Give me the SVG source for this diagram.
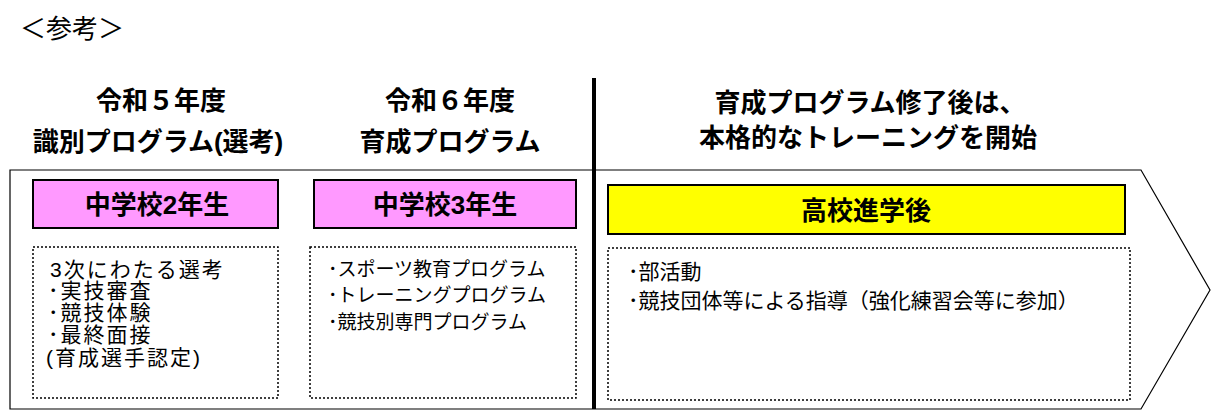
<svg xmlns="http://www.w3.org/2000/svg" width="1213" height="418" viewBox="0 0 1213 418">
<style>
text{font-family:"Liberation Sans","Noto Sans CJK JP",sans-serif;fill:#000}
.h{font-size:26px;font-weight:bold;text-anchor:middle}
.b{font-size:26px;font-weight:bold;text-anchor:middle}
.t{font-size:21px}
.l{letter-spacing:2px}
.m{font-size:19px}
.dot{fill:#fff;stroke:#000;stroke-width:1.5;stroke-dasharray:2 2}
.pk{fill:#ff99ff;stroke:#000;stroke-width:2}
</style>
<rect width="1213" height="418" fill="#fff"/>
<text x="20" y="38" style="font-size:26px">＜参考＞</text>
<g id="headers">
<text class="h" x="161" y="110">令和５年度</text>
<text class="h" x="158" y="151">識別プログラム(選考)</text>
<text class="h" x="450" y="110">令和６年度</text>
<text class="h" x="450" y="151">育成プログラム</text>
<text class="h" x="870" y="112">育成プログラム修了後は、</text>
<text class="h" x="868" y="147">本格的なトレーニングを開始</text>
</g>
<g id="arrow"><polygon points="10,170 1141,170 1210,290 1141,409 10,409" fill="#fff" stroke="#000" stroke-width="1.2"/></g>
<g id="divider"><line x1="594" y1="78" x2="594" y2="409" stroke="#000" stroke-width="4"/></g>
<g id="n1">
<rect class="pk" x="33" y="180" width="245" height="48"/>
<text class="b" x="157" y="214">中学校2年生</text>
<rect class="dot" x="33" y="247" width="245" height="151"/>
<text class="t l" x="50" y="277">3次にわたる選考</text>
<text class="t l" x="48" y="298">･実技審査</text>
<text class="t l" x="48" y="320">･競技体験</text>
<text class="t l" x="48" y="342">･最終面接</text>
<text class="t l" x="46" y="365">(育成選手認定)</text>
</g>
<g id="n2">
<rect class="pk" x="314" y="180" width="262" height="48"/>
<text class="b" x="445" y="214">中学校3年生</text>
<rect class="dot" x="310" y="247" width="266" height="151"/>
<text class="m" x="328" y="276">･スポーツ教育プログラム</text>
<text class="m" x="328" y="302">･トレーニングプログラム</text>
<text class="m" x="328" y="329">･競技別専門プログラム</text>
</g>
<g id="n3">
<rect x="608" y="185" width="517" height="49" fill="#ffff00" stroke="#000" stroke-width="2"/>
<text class="b" x="866" y="220">高校進学後</text>
<rect class="dot" x="608" y="248" width="522" height="152"/>
<text class="t" x="628" y="279">･部活動</text>
<text class="t" x="628" y="308">･競技団体等による指導（強化練習会等に参加）</text>
</g>
<g id="connectors"></g>
</svg>
